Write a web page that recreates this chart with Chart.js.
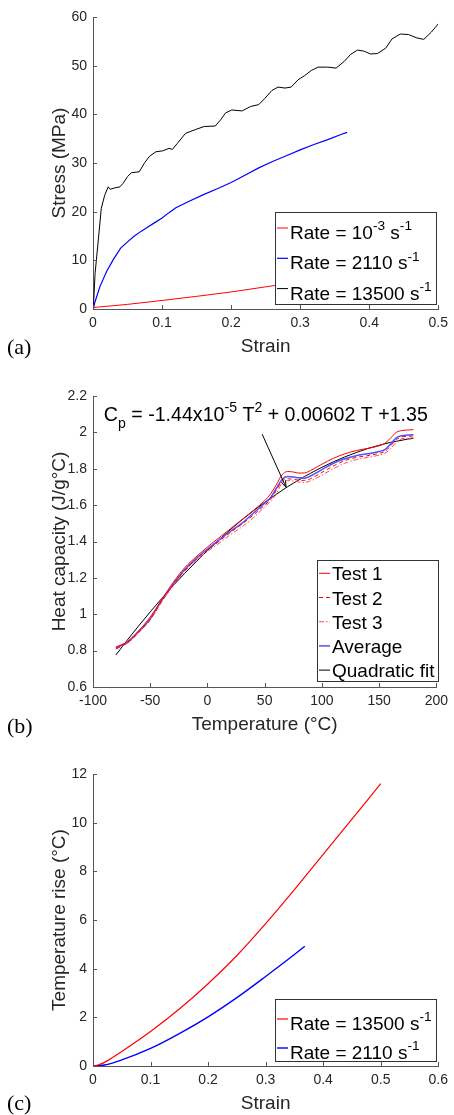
<!DOCTYPE html>
<html>
<head>
<meta charset="utf-8">
<script src="https://cdn.jsdelivr.net/npm/chart.js@4.4.0/dist/chart.umd.min.js"></script>
<style>
  body { margin: 0; background: #fff; width: 454px; height: 1115px; position: relative; overflow: hidden; }
  canvas { position: absolute; left: 0; }
  .tag { position: absolute; left: 7px; font: 22px "Liberation Serif", "Times New Roman", serif; line-height: 1; color: #000; }
</style>
</head>
<body>
<canvas id="chartA" width="454" height="370" style="top:0px"></canvas>
<canvas id="chartB" width="454" height="370" style="top:370px"></canvas>
<canvas id="chartC" width="454" height="375" style="top:740px"></canvas>
<div class="tag" style="top:336px">(a)</div>
<div class="tag" style="top:715px">(b)</div>
<div class="tag" style="top:1092px">(c)</div>
<script>
// (a) stress-strain
var strainSlow = [0, 0.05, 0.1, 0.15, 0.2, 0.25, 0.3, 0.35];
var stressSlow = [0.3, 0.95, 1.75, 2.6, 3.5, 4.55, 5.6, 6.8];

var strain2110 = [0, 0.003, 0.01, 0.02, 0.03, 0.04, 0.05, 0.06, 0.07, 0.08, 0.09, 0.1, 0.11, 0.115, 0.12, 0.14, 0.16, 0.18, 0.2, 0.22, 0.24, 0.26, 0.28, 0.3, 0.32, 0.34, 0.36, 0.368];
var stress2110 = [0, 1.5, 4.6, 7.8, 10.3, 12.5, 13.8, 15.0, 16.0, 16.9, 17.8, 18.7, 19.8, 20.3, 20.8, 22.2, 23.5, 24.7, 26.0, 27.5, 29.0, 30.3, 31.5, 32.7, 33.8, 34.8, 35.9, 36.3];

var strain13500 = [0, 0.001, 0.003, 0.0077, 0.012, 0.017, 0.022, 0.025, 0.032, 0.039, 0.0435, 0.05, 0.0555, 0.067, 0.075, 0.082, 0.091, 0.101, 0.11, 0.115, 0.122, 0.134, 0.149, 0.161, 0.177, 0.185, 0.192, 0.201, 0.216, 0.228, 0.24, 0.249, 0.259, 0.268, 0.278, 0.287, 0.297, 0.306, 0.316, 0.326, 0.34, 0.352, 0.364, 0.373, 0.383, 0.392, 0.402, 0.412, 0.424, 0.433, 0.445, 0.457, 0.469, 0.479, 0.49, 0.5];
var stress13500 = [0, 1.5, 7.3, 14.2, 20.7, 23.4, 25.1, 24.6, 24.9, 25.1, 25.8, 27.2, 28.0, 28.2, 30.1, 31.4, 32.3, 32.5, 33.0, 32.8, 34.0, 36.1, 36.9, 37.5, 37.6, 38.9, 40.3, 40.9, 40.7, 41.6, 42.0, 43.3, 44.9, 45.6, 45.4, 45.6, 47.1, 47.9, 49.0, 49.7, 49.7, 49.5, 50.9, 52.3, 53.2, 53.0, 52.4, 52.5, 53.6, 55.5, 56.5, 56.4, 55.7, 55.4, 56.9, 58.6];

// (b) heat capacity
var tempC = [-80, -70, -60, -50, -40, -30, -20, -10, 0, 10, 20, 30, 40, 50, 55, 60, 65, 70, 75, 80, 85, 90, 100, 110, 120, 130, 140, 150, 155, 160, 165, 170, 175, 180];
var cpTest1 = [0.82, 0.85, 0.91, 0.985, 1.08, 1.175, 1.255, 1.315, 1.37, 1.42, 1.47, 1.52, 1.57, 1.625, 1.66, 1.71, 1.765, 1.785, 1.782, 1.776, 1.777, 1.79, 1.825, 1.857, 1.882, 1.9, 1.912, 1.926, 1.94, 1.968, 2.0, 2.01, 2.013, 2.015];
var cpTest2 = [0.81, 0.842, 0.9, 0.97, 1.07, 1.16, 1.24, 1.3, 1.352, 1.4, 1.45, 1.495, 1.545, 1.6, 1.63, 1.68, 1.73, 1.745, 1.742, 1.737, 1.736, 1.745, 1.78, 1.815, 1.845, 1.862, 1.872, 1.885, 1.895, 1.925, 1.96, 1.975, 1.978, 1.98];
var cpTest3 = [0.81, 0.84, 0.9, 0.97, 1.07, 1.155, 1.235, 1.295, 1.345, 1.39, 1.437, 1.48, 1.53, 1.59, 1.62, 1.66, 1.72, 1.735, 1.732, 1.727, 1.725, 1.733, 1.765, 1.8, 1.83, 1.85, 1.862, 1.875, 1.885, 1.91, 1.945, 1.965, 1.968, 1.97];
var cpAverage = [0.815, 0.845, 0.905, 0.975, 1.075, 1.165, 1.245, 1.305, 1.358, 1.408, 1.455, 1.5, 1.555, 1.61, 1.64, 1.69, 1.74, 1.757, 1.755, 1.75, 1.748, 1.76, 1.795, 1.83, 1.855, 1.872, 1.882, 1.895, 1.905, 1.935, 1.97, 1.982, 1.985, 1.987];
var cpFit = [0.776, 0.858, 0.937, 1.013, 1.086, 1.157, 1.224, 1.288, 1.35, 1.409, 1.465, 1.518, 1.568, 1.615, 1.638, 1.659, 1.68, 1.701, 1.72, 1.739, 1.758, 1.775, 1.808, 1.838, 1.865, 1.889, 1.911, 1.929, 1.937, 1.945, 1.951, 1.957, 1.963, 1.967];

// (c) temperature rise
var strainRise13500 = [0, 0.01, 0.02, 0.05, 0.1, 0.15, 0.2, 0.25, 0.3, 0.35, 0.4, 0.45, 0.5];
var rise13500 = [0, 0.05, 0.15, 0.6, 1.42, 2.34, 3.38, 4.54, 5.85, 7.25, 8.7, 10.15, 11.6];
var strainRise2110 = [0, 0.02, 0.05, 0.1, 0.15, 0.2, 0.25, 0.3, 0.35, 0.368];
var rise2110 = [0, 0.04, 0.25, 0.72, 1.33, 2.02, 2.81, 3.68, 4.58, 4.92];

Chart.defaults.font.family = '"Liberation Sans", Arial, Helvetica, sans-serif';
Chart.defaults.animation = false;

function pts(xs, ys) {
  return xs.map(function (v, i) { return { x: v, y: ys[i] }; });
}

// text with ^{..} and _{..} like matlab tex
function drawTex(ctx, str, x, y, size, color) {
  var re = /([\^_])\{([^}]*)\}/g, last = 0, m, parts = [];
  while ((m = re.exec(str))) {
    if (m.index > last) parts.push([str.slice(last, m.index), 0]);
    parts.push([m[2], m[1] === '^' ? 1 : -1]);
    last = re.lastIndex;
  }
  if (last < str.length) parts.push([str.slice(last), 0]);
  ctx.fillStyle = color;
  ctx.textAlign = 'left';
  ctx.textBaseline = 'alphabetic';
  parts.forEach(function (p) {
    var s = p[1] ? size * 0.72 : size;
    ctx.font = s + 'px "Liberation Sans", Arial, sans-serif';
    var dy = p[1] > 0 ? -size * 0.45 : (p[1] < 0 ? size * 0.35 : 0);
    ctx.fillText(p[0], x, y + dy);
    x += ctx.measureText(p[0]).width;
  });
}

var inTicks = {
  id: 'inTicks',
  afterDraw: function (chart) {
    var ctx = chart.ctx, a = chart.chartArea, x = chart.scales.x, y = chart.scales.y;
    ctx.save();
    ctx.strokeStyle = '#555';
    ctx.lineWidth = 1;
    ctx.beginPath();
    x.ticks.forEach(function (t) {
      var px = Math.round(x.getPixelForValue(t.value)) + 0.5;
      ctx.moveTo(px, a.bottom); ctx.lineTo(px, a.bottom - 4);
    });
    y.ticks.forEach(function (t) {
      var py = Math.round(y.getPixelForValue(t.value)) + 0.5;
      ctx.moveTo(a.left, py); ctx.lineTo(a.left + 4, py);
    });
    ctx.stroke();
    ctx.restore();
  }
};

var boxLegend = {
  id: 'boxLegend',
  afterDatasetsDraw: function (chart, args, o) {
    var ctx = chart.ctx;
    ctx.save();
    ctx.fillStyle = '#fff';
    ctx.fillRect(o.x, o.y, o.w, o.h);
    ctx.strokeStyle = '#333';
    ctx.lineWidth = 1;
    ctx.strokeRect(o.x + 0.5, o.y + 0.5, o.w, o.h);
    chart.data.datasets.forEach(function (ds, i) {
      var ly = o.row0 + i * o.dy;
      ctx.strokeStyle = ds.borderColor;
      ctx.lineWidth = ds.borderWidth;
      ctx.setLineDash(ds.borderDash || []);
      ctx.beginPath();
      ctx.moveTo(o.x + 2, ly); ctx.lineTo(o.x + 13, ly);
      ctx.stroke();
      ctx.setLineDash([]);
      drawTex(ctx, ds.label, o.x + 15, ly + o.base, 19, '#000');
    });
    ctx.restore();
  }
};

var cpNote = {
  id: 'cpNote',
  afterDatasetsDraw: function (chart, args, o) {
    if (!o || !o.text) return;
    var ctx = chart.ctx, x = chart.scales.x, y = chart.scales.y;
    ctx.save();
    drawTex(ctx, o.text, x.getPixelForValue(o.textAt[0]), y.getPixelForValue(o.textAt[1]), 19.6, '#000');
    var x0 = x.getPixelForValue(o.from[0]), y0 = y.getPixelForValue(o.from[1]);
    var x1 = x.getPixelForValue(o.to[0]), y1 = y.getPixelForValue(o.to[1]);
    var ang = Math.atan2(y1 - y0, x1 - x0);
    ctx.strokeStyle = '#000';
    ctx.lineWidth = 1;
    ctx.beginPath();
    ctx.moveTo(x0, y0); ctx.lineTo(x1, y1);
    ctx.moveTo(x1 - 7 * Math.cos(ang - 0.35), y1 - 7 * Math.sin(ang - 0.35));
    ctx.lineTo(x1, y1);
    ctx.lineTo(x1 - 7 * Math.cos(ang + 0.35), y1 - 7 * Math.sin(ang + 0.35));
    ctx.stroke();
    ctx.restore();
  }
};

function fmt(v) { return String(parseFloat(v.toFixed(4))); }

function scales(xr, yr, xTitle, yTitle, xAxisH, xTitlePad) {
  return {
    x: {
      type: 'linear', min: xr[0], max: xr[1],
      ticks: { stepSize: xr[2], color: '#262626', font: { size: 14 }, padding: 6, maxRotation: 0, autoSkip: false, callback: fmt },
      grid: { display: false, drawTicks: false },
      border: { display: true, color: '#555', width: 1 },
      title: { display: true, text: xTitle, color: '#262626', font: { size: 19 }, padding: { top: 0, bottom: xTitlePad } },
      afterFit: function (s) { s.height = xAxisH; }
    },
    y: {
      type: 'linear', min: yr[0], max: yr[1],
      ticks: { stepSize: yr[2], color: '#262626', font: { size: 14 }, padding: 6, autoSkip: false, callback: fmt },
      grid: { display: false, drawTicks: false },
      border: { display: true, color: '#555', width: 1 },
      title: { display: true, text: yTitle, color: '#262626', font: { size: 19 }, padding: { top: 48, bottom: 0 } },
      afterFit: function (s) { s.width = 93; }
    }
  };
}

function baseOptions(sc, topPad, legend, note) {
  return {
    responsive: false,
    animation: false,
    layout: { padding: { left: 0, right: 12, top: topPad, bottom: 0 } },
    elements: { point: { radius: 0 } },
    scales: sc,
    plugins: {
      legend: { display: false },
      tooltip: { enabled: false },
      boxLegend: legend,
      cpNote: note || {}
    }
  };
}

new Chart(document.getElementById('chartA'), {
  type: 'line',
  data: {
    datasets: [
      { label: 'Rate = 10^{-3} s^{-1}', data: pts(strainSlow, stressSlow), borderColor: '#ff0000', borderWidth: 1, tension: 0 },
      { label: 'Rate = 2110 s^{-1}', data: pts(strain2110, stress2110), borderColor: '#0000ff', borderWidth: 1.2, tension: 0 },
      { label: 'Rate = 13500 s^{-1}', data: pts(strain13500, stress13500), borderColor: '#000000', borderWidth: 1, tension: 0 }
    ]
  },
  options: baseOptions(scales([0, 0.5, 0.1], [0, 60, 10], 'Strain', 'Stress (MPa)', 61, 12), 17,
    { x: 275, y: 212, w: 161, h: 92, row0: 228, dy: 30.3, base: 11 }),
  plugins: [inTicks, boxLegend]
});

new Chart(document.getElementById('chartB'), {
  type: 'line',
  data: {
    datasets: [
      { label: 'Test 1', data: pts(tempC, cpTest1), borderColor: '#ff0000', borderWidth: 1, cubicInterpolationMode: 'monotone' },
      { label: 'Test 2', data: pts(tempC, cpTest2), borderColor: '#ff0000', borderWidth: 1, borderDash: [4, 3], cubicInterpolationMode: 'monotone' },
      { label: 'Test 3', data: pts(tempC, cpTest3), borderColor: '#ff5050', borderWidth: 1, borderDash: [5, 2, 1.5, 2], cubicInterpolationMode: 'monotone' },
      { label: 'Average', data: pts(tempC, cpAverage), borderColor: '#5050ff', borderWidth: 1.5, cubicInterpolationMode: 'monotone' },
      { label: 'Quadratic fit', data: pts(tempC, cpFit), borderColor: '#000000', borderWidth: 1, cubicInterpolationMode: 'monotone' }
    ]
  },
  options: baseOptions(scales([-100, 200, 50], [0.6, 2.2, 0.2], 'Temperature (°C)', 'Heat capacity (J/g°C)', 53, 4), 26,
    { x: 317, y: 190, w: 121, h: 121, row0: 203.3, dy: 24.2, base: 7 },
    { text: 'C_{p} = -1.44x10^{-5} T^{2} + 0.00602 T +1.35', textAt: [-90.5, 2.062], from: [47.8, 1.99], to: [68.7, 1.698] }),
  plugins: [inTicks, boxLegend, cpNote]
});

new Chart(document.getElementById('chartC'), {
  type: 'line',
  data: {
    datasets: [
      { label: 'Rate = 13500 s^{-1}', data: pts(strainRise13500, rise13500), borderColor: '#ff0000', borderWidth: 1.2, cubicInterpolationMode: 'monotone' },
      { label: 'Rate = 2110 s^{-1}', data: pts(strainRise2110, rise2110), borderColor: '#0000ff', borderWidth: 1.4, cubicInterpolationMode: 'monotone' }
    ]
  },
  options: baseOptions(scales([0, 0.6, 0.1], [0, 12, 2], 'Strain', 'Temperature rise (°C)', 49, 0), 34,
    { x: 275, y: 259, w: 161, h: 62, row0: 279, dy: 29, base: 11 }),
  plugins: [inTicks, boxLegend]
});
</script>
</body>
</html>
